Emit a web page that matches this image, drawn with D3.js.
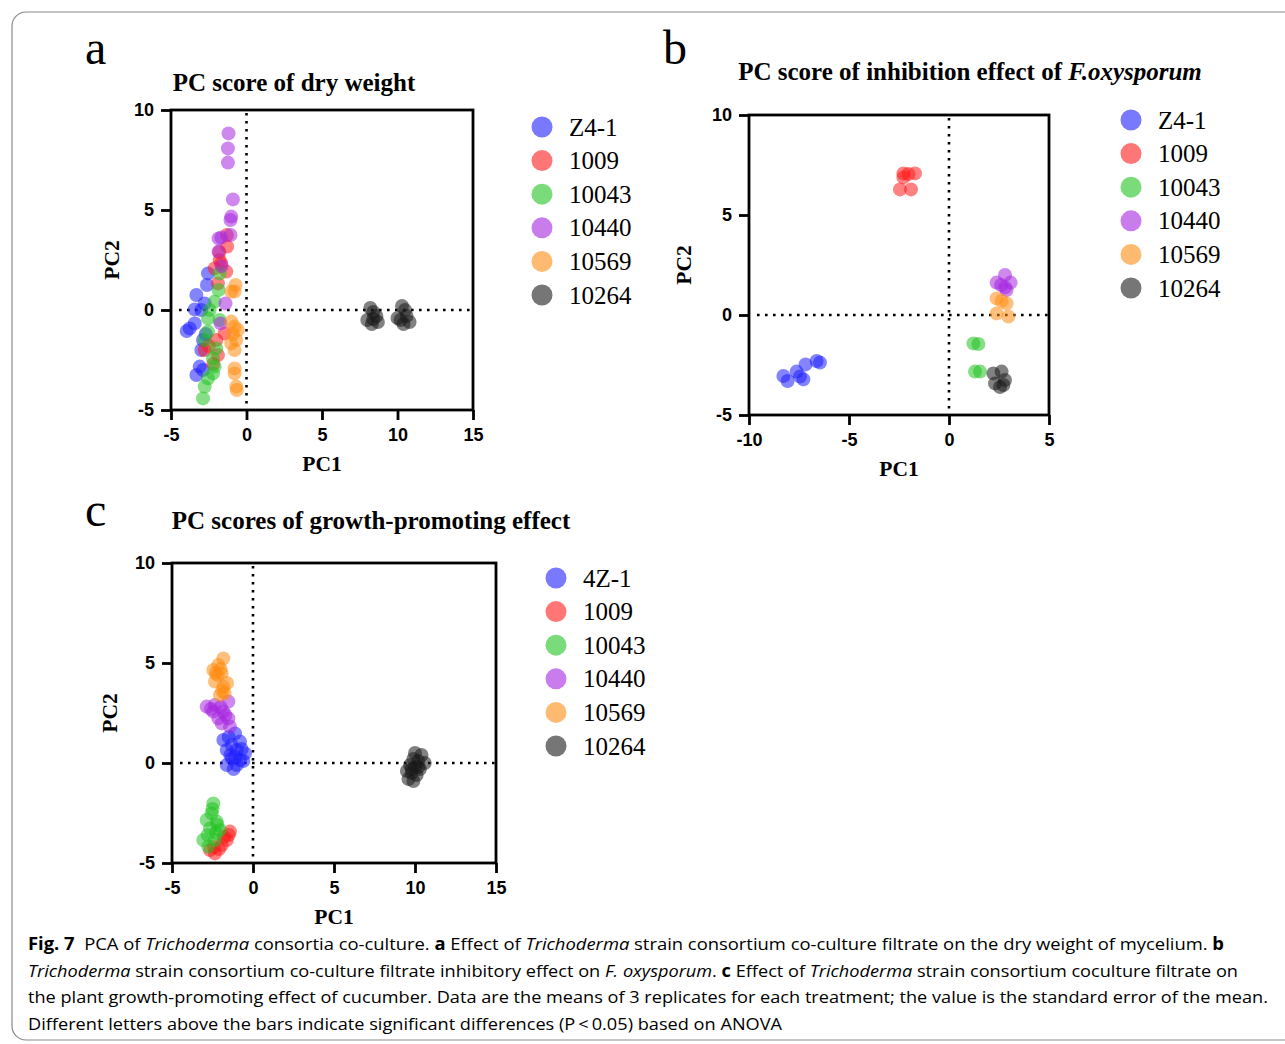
<!DOCTYPE html>
<html>
<head>
<meta charset="utf-8">
<script src="https://cdn.jsdelivr.net/npm/d3@7"></script>
<style>
  body { margin: 0; background: #fff; }
  svg text { fill: #000; }
</style>
</head>
<body>
<svg id="fig" width="1285" height="1044"></svg>
<script>
const W = 1285
const H = 1044

// legend labels
const labelsAB = ["Z4-1", "1009", "10043", "10440", "10569", "10264"]
const labelsC = ["4Z-1", "1009", "10043", "10440", "10569", "10264"]
const COLORS = ["#1f1fff", "#ff1a1a", "#22c322", "#a526e0", "#ff8c12", "#1a1a1a"]

// axis ticks
const ticksX_AC = [-5, 0, 5, 10, 15]
const ticksX_B = [-10, -5, 0, 5]
const ticksY = [-5, 0, 5, 10]

// panel a : PC score of dry weight  [PC1, PC2]
const dryZ41 = [[-2.55,1.83],[-2.62,1.25],[-3.32,0.75],[-3.43,0.03],[-2.99,0],[-2.77,0.33],[-3.76,-0.92],[-3.43,-0.67],[-3.96,-1.05],[-2.88,-1.5],[-2.99,-2.0],[-3.1,-2.83],[-3.32,-3.25],[-2.88,-3.0],[-2.7,-1.2]]
const dry1009 = [[-1.3,3.75],[-1.28,3.17],[-1.78,2.5],[-1.67,2.33],[-2.11,2.08],[-1.34,1.92],[-1.89,1.33],[-1.45,-1.17],[-2.0,-1.5],[-2.77,-2.0],[-1.89,-2.25],[-2.2,-2.7],[-2.5,-1.8],[-1.8,2.9]]
const dry10043 = [[-1.78,1.83],[-1.85,1.0],[-2.11,0.42],[-2.44,0],[-2.55,-0.42],[-1.78,-0.5],[-2.55,-1.08],[-2.77,-1.5],[-2.0,-1.92],[-2.22,-2.42],[-2.11,-2.83],[-2.22,-3.17],[-2.55,-3.42],[-2.77,-3.83],[-2.88,-4.42]]
const dry10440 = [[-1.19,8.83],[-1.23,8.08],[-1.23,7.37],[-0.9,5.53],[-1.01,4.67],[-1.06,4.5],[-1.06,3.75],[-1.67,3.62],[-1.85,3.58],[-1.85,2.92],[-1.39,0.33],[-1.72,-0.67],[-1.65,2.2]]
const dry10569 = [[-0.73,1.25],[-0.79,0.92],[-1.01,0.92],[-1.01,-0.58],[-0.57,-1.0],[-0.79,-0.83],[-0.68,-1.5],[-1.01,-1.67],[-0.79,-2.0],[-0.79,-2.92],[-0.79,-3.17],[-0.68,-3.83],[-0.64,-4.0],[-0.9,-1.2]]
const dry10264 = [[8.0,-0.5],[8.3,-0.7],[8.6,-0.3],[8.4,-0.1],[8.2,0.1],[8.7,-0.6],[8.4,-0.45],[10.0,-0.4],[10.3,0.2],[10.6,-0.3],[10.8,-0.6],[10.4,-0.7],[10.2,-0.5],[10.5,0.0]]

// panel b : PC score of inhibition effect of F.oxysporum
const inhZ41 = [[-8.28,-3.05],[-8.07,-3.3],[-7.62,-2.83],[-7.45,-3.08],[-7.28,-3.22],[-7.17,-2.47],[-6.62,-2.3],[-6.45,-2.38]]
const inh1009 = [[-2.28,7.08],[-1.7,7.08],[-2.28,6.88],[-2.45,6.28],[-1.9,6.28],[-2.03,7.05]]
const inh10043 = [[1.22,-1.42],[1.47,-1.45],[1.3,-2.83],[1.55,-2.83]]
const inh10440 = [[2.8,2.0],[2.38,1.62],[3.08,1.62],[2.8,1.38],[2.88,1.25],[2.6,1.5]]
const inh10569 = [[2.38,0.83],[2.88,0.58],[2.38,0.08],[2.97,-0.08],[2.63,0.7]]
const inh10264 = [[2.22,-2.92],[2.63,-2.83],[2.3,-3.42],[2.72,-3.5],[2.8,-3.25],[2.55,-3.6]]

// panel c : PC scores of growth-promoting effect
const grw4Z1 = [[-1.83,1.15],[-1.11,1.48],[-1.31,0.9],[-0.8,1.07],[-1.62,0.65],[-1.0,0.65],[-0.49,0.48],[-1.31,0.23],[-0.8,0.15],[-1.62,-0.1],[-1.0,-0.1],[-1.4,0.4],[-1.2,-0.3],[-0.7,0.7],[-1.5,1.3],[-0.6,0.1],[-1.1,0.3]]
const grw1009 = [[-1.42,-3.43],[-1.62,-3.85],[-1.93,-4.1],[-2.35,-4.52],[-2.65,-4.35],[-1.5,-3.6],[-2.1,-4.3],[-1.8,-3.7],[-2.4,-4.2]]
const grw10043 = [[-2.45,-2.02],[-2.55,-2.52],[-2.86,-2.85],[-2.24,-2.93],[-2.65,-3.27],[-2.04,-3.35],[-3.07,-3.85],[-2.35,-3.85],[-2.76,-4.18],[-2.3,-3.5],[-2.5,-2.3],[-2.8,-3.6],[-2.2,-3.1]]
const grw10440 = [[-2.86,2.82],[-2.35,2.9],[-1.52,3.07],[-2.45,2.57],[-1.83,2.57],[-2.14,2.23],[-1.52,2.23],[-1.93,1.98],[-1.42,1.82],[-2.6,2.7],[-2.0,2.8],[-1.7,2.4]]
const grw10569 = [[-1.83,5.23],[-2.14,4.9],[-2.45,4.65],[-1.93,4.48],[-2.35,4.07],[-1.83,3.82],[-1.6,4.0],[-2.04,3.4],[-1.75,3.5],[-2.2,4.4],[-2.0,4.7],[-2.3,4.5],[-1.9,3.6]]
const grw10264 = [[9.6,-0.8],[9.8,-0.5],[10.0,-0.2],[10.2,0.1],[10.4,0.4],[9.9,0.2],[10.1,-0.6],[9.7,-0.1],[10.3,-0.3],[10.6,0.0],[9.5,-0.4],[10.0,0.5],[9.9,-0.9],[10.2,-0.2],[9.8,-0.3]]

const svg = d3.select('#fig')

// outer frame of the figure
svg.append('rect')
    .attr('x', 12).attr('y', 12)
    .attr('width', 1300).attr('height', 1028)
    .attr('rx', 14)
    .attr('fill', 'none')
    .attr('stroke', '#8a8a8a')
    .attr('stroke-width', 1.2)

function drawPanel(opt){
    const x = d3.scaleLinear().domain(opt.xDomain).range([opt.left, opt.right])
    const y = d3.scaleLinear().domain([-5, 10]).range([opt.bottom, opt.top])
    const g = svg.append('g')

    // dotted zero lines
    g.append('line')
        .attr('x1', x(0)).attr('x2', x(0))
        .attr('y1', opt.top + 3).attr('y2', opt.bottom)
        .attr('stroke', '#000').attr('stroke-width', 2.6)
        .attr('stroke-dasharray', '2.6,5.4')
    g.append('line')
        .attr('x1', opt.left + 8).attr('x2', opt.right)
        .attr('y1', y(0)).attr('y2', y(0))
        .attr('stroke', '#000').attr('stroke-width', 2.6)
        .attr('stroke-dasharray', '2.6,5.4')

    // points
    opt.series.forEach((pts, i) => {
        g.append('g').selectAll('circle')
            .data(pts)
            .enter()
            .append('circle')
            .attr('cx', d => x(d[0]))
            .attr('cy', d => y(d[1]))
            .attr('r', opt.r)
            .attr('fill', COLORS[i])
            .attr('fill-opacity', 0.55)
    })

    // box
    g.append('rect')
        .attr('x', opt.left).attr('y', opt.top)
        .attr('width', opt.right - opt.left).attr('height', opt.bottom - opt.top)
        .attr('fill', 'none').attr('stroke', '#000').attr('stroke-width', 2.8)

    const ax = g.append('g')
        .attr('transform', `translate(0,${opt.bottom})`)
        .call(d3.axisBottom(x).tickValues(opt.xTicks).tickSize(10).tickPadding(8).tickFormat(d3.format('d')))
    const ay = g.append('g')
        .attr('transform', `translate(${opt.left},0)`)
        .call(d3.axisLeft(y).tickValues(ticksY).tickSize(10).tickPadding(7).tickFormat(d3.format('d')))
    ;[ax, ay].forEach(a => {
        a.select('.domain').remove()
        a.selectAll('line').attr('stroke', '#000').attr('stroke-width', 2.8)
        a.selectAll('text')
            .attr('font-family', 'Liberation Sans, Arial, sans-serif')
            .attr('font-weight', 'bold')
            .attr('font-size', 18)
            .attr('fill', '#000')
    })
    ax.selectAll('text').text(d => d < 0 ? '-' + Math.abs(d) : d)
    ay.selectAll('text').text(d => d < 0 ? '-' + Math.abs(d) : d)

    // axis titles
    g.append('text')
        .attr('x', (opt.left + opt.right) / 2).attr('y', opt.bottom + 61)
        .attr('text-anchor', 'middle')
        .attr('font-family', 'Liberation Serif, Times New Roman, serif')
        .attr('font-weight', 'bold').attr('font-size', 21.5)
        .text('PC1')
    g.append('text')
        .attr('transform', `translate(${opt.left - opt.pc2Off},${(opt.top + opt.bottom) / 2}) rotate(-90)`)
        .attr('text-anchor', 'middle')
        .attr('font-family', 'Liberation Serif, Times New Roman, serif')
        .attr('font-weight', 'bold').attr('font-size', 21.5)
        .text('PC2')

    // title
    const t = g.append('text')
        .attr('x', opt.titleX).attr('y', opt.titleY)
        .attr('text-anchor', 'middle')
        .attr('font-family', 'Liberation Serif, Times New Roman, serif')
        .attr('font-weight', 'bold').attr('font-size', 25)
    opt.title.forEach(part => {
        t.append('tspan').attr('font-style', part[1] ? 'italic' : 'normal').text(part[0])
    })

    // panel letter
    g.append('text')
        .attr('x', opt.letterX).attr('y', opt.letterY)
        .attr('font-family', 'Liberation Serif, Times New Roman, serif')
        .attr('font-size', 48)
        .text(opt.letter)

    // legend
    const lg = g.append('g')
    opt.labels.forEach((lab, i) => {
        const cy = opt.legY + i * 33.6
        lg.append('circle')
            .attr('cx', opt.legX).attr('cy', cy).attr('r', 10.5)
            .attr('fill', COLORS[i]).attr('fill-opacity', 0.6)
        lg.append('text')
            .attr('x', opt.legX + 27).attr('y', cy + 8.5)
            .attr('font-family', 'Liberation Serif, Times New Roman, serif')
            .attr('font-size', 25)
            .text(lab)
    })
}

drawPanel({
    left: 171, right: 473, top: 110, bottom: 410,
    xDomain: [-5, 15], xTicks: ticksX_AC, r: 7, pc2Off: 52,
    series: [dryZ41, dry1009, dry10043, dry10440, dry10569, dry10264],
    title: [['PC score of dry weight', false]], titleX: 294, titleY: 91,
    letter: 'a', letterX: 85, letterY: 64,
    labels: labelsAB, legX: 542, legY: 127
})
drawPanel({
    left: 749, right: 1049, top: 115, bottom: 415,
    xDomain: [-10, 5], xTicks: ticksX_B, r: 7, pc2Off: 58,
    series: [inhZ41, inh1009, inh10043, inh10440, inh10569, inh10264],
    title: [['PC score of inhibition effect of ', false], ['F.oxysporum', true]], titleX: 970, titleY: 80,
    letter: 'b', letterX: 663, letterY: 64,
    labels: labelsAB, legX: 1131, legY: 120
})
drawPanel({
    left: 172, right: 496, top: 563, bottom: 863,
    xDomain: [-5, 15], xTicks: ticksX_AC, r: 7, pc2Off: 55,
    series: [grw4Z1, grw1009, grw10043, grw10440, grw10569, grw10264],
    title: [['PC scores of growth-promoting effect', false]], titleX: 371, titleY: 529,
    letter: 'c', letterX: 85, letterY: 526,
    labels: labelsC, legX: 556, legY: 578
})

// caption
const captionLines = [
    { y: 950, len: 1196, parts: [['Fig. 7', 'b'], ['  PCA of ', 'n'], ['Trichoderma', 'i'], [' consortia co-culture. ', 'n'], ['a', 'b'], [' Effect of ', 'n'], ['Trichoderma', 'i'], [' strain consortium co-culture filtrate on the dry weight of mycelium. ', 'n'], ['b', 'b']] },
    { y: 977, len: 1210, parts: [['Trichoderma', 'i'], [' strain consortium co-culture filtrate inhibitory effect on ', 'n'], ['F. oxysporum', 'i'], ['. ', 'n'], ['c', 'b'], [' Effect of ', 'n'], ['Trichoderma', 'i'], [' strain consortium coculture filtrate on', 'n']] },
    { y: 1003, len: 1240, parts: [['the plant growth-promoting effect of cucumber. Data are the means of 3 replicates for each treatment; the value is the standard error of the mean.', 'n']] },
    { y: 1030, len: 754, parts: [['Different letters above the bars indicate significant differences (P\u2009<\u20090.05) based on ANOVA', 'n']] }
]
captionLines.forEach(line => {
    const t = svg.append('text')
        .attr('x', 28).attr('y', line.y)
        .attr('font-family', 'Open Sans, Noto Sans, sans-serif')
        .attr('font-size', 17)
        .attr('fill', '#231f20')
        .attr('textLength', line.len)
        .attr('lengthAdjust', 'spacingAndGlyphs')
        .attr('xml:space', 'preserve')
    line.parts.forEach(p => {
        t.append('tspan')
            .attr('font-weight', p[1] === 'b' ? 'bold' : 'normal')
            .attr('font-style', p[1] === 'i' ? 'italic' : 'normal')
            .text(p[0])
    })
})
</script>
</body>
</html>
